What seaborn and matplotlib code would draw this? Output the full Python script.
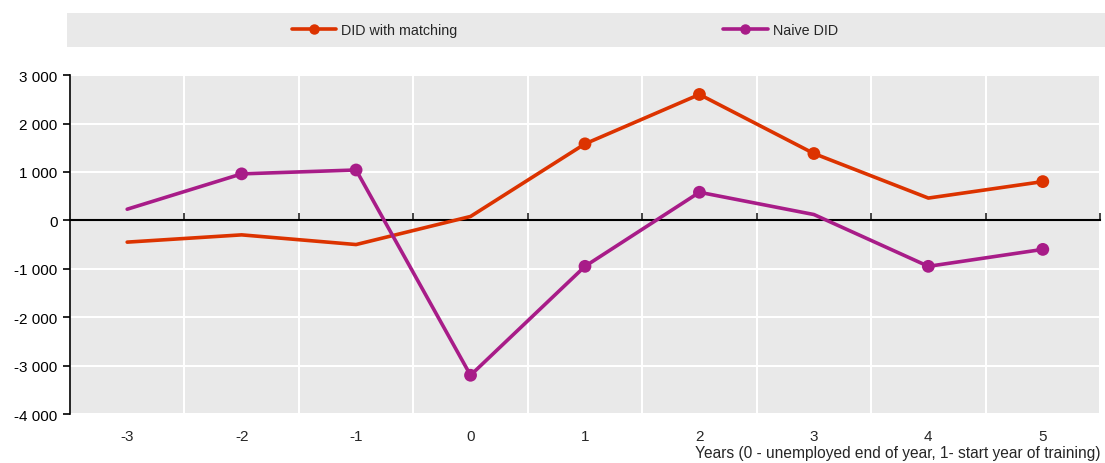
import numpy as np
import pandas as pd
import matplotlib.pyplot as plt
import matplotlib.ticker as ticker
import seaborn as sns

# data

years = [-3, -2, -1, 0, 1, 2, 3, 4, 5]
did_matching = [-450, -300, -500, 80, 1580, 2600, 1380, 460, 800]
naive_did = [230, 960, 1040, -3200, -950, 580, 120, -950, -600]
# points drawn with a marker in the original
matching_marked = [False, False, False, False, True, True, True, False, True]
naive_marked = [False, True, True, True, True, True, False, True, True]

df = pd.DataFrame({
    "year": years * 2,
    "value": did_matching + naive_did,
    "series": ["DID with matching"] * len(years) + ["Naive DID"] * len(years),
    "marked": matching_marked + naive_marked,
})

colors = {"DID with matching": "#dc3300", "Naive DID": "#a81c88"}

sns.set_style("white")
plt.rcParams['font.family'] = ['Liberation Sans', 'DejaVu Sans']
plt.rcParams['axes.unicode_minus'] = False

fig = plt.figure(figsize=(11.05, 4.64), dpi=100)
ax = fig.add_axes([0.0633, 0.1056, 0.9322, 0.7304])
ax.set_facecolor("#e9e9e9")

sns.lineplot(data=df, x="year", y="value", hue="series", palette=colors,
             linewidth=2.6, ax=ax, legend=False, zorder=6)
sns.scatterplot(data=df[df["marked"]], x="year", y="value", hue="series",
                palette=colors, s=85, edgecolor="none", ax=ax, legend=False, zorder=7)

ax.set_xlim(-3.5, 5.5)
ax.set_ylim(-4000, 3000)
ax.set_xticks(years)
ax.xaxis.set_minor_locator(ticker.FixedLocator(np.arange(-3.5, 5.6, 1)))
ax.yaxis.set_major_locator(ticker.MultipleLocator(1000))
ax.yaxis.set_major_formatter(ticker.FuncFormatter(lambda v, p: f"{int(v):,}".replace(",", " ")))
ax.grid(False)
ax.grid(True, which="minor", axis="x", color="white", linewidth=1.5)
ax.grid(True, which="major", axis="y", color="white", linewidth=1.5)
ax.set_axisbelow(True)

for s in ["top", "right", "bottom"]:
    ax.spines[s].set_visible(False)
ax.spines["left"].set_color("black")
ax.spines["left"].set_linewidth(1.2)
ax.tick_params(axis="y", which="major", left=True, length=5, width=1.2,
               labelsize=11, pad=4, colors="black")
ax.tick_params(axis="x", which="both", bottom=False, labelsize=11, pad=7)

# zero line with small ticks between categories
zero = ax.secondary_xaxis(4000 / 7000)
zero.set_zorder(5)
for s in zero.spines.values():
    s.set_linewidth(1.5)
    s.set_color("black")
zero.set_xticks(np.arange(-3.5, 5.6, 1))
zero.set_xticklabels([])
zero.tick_params(direction="out", length=5, width=1.2, labeltop=False, labelbottom=False)

ax.set_xlabel("Years (0 - unemployed end of year, 1- start year of training)",
              fontsize=11.2, loc="right", labelpad=0)
ax.xaxis.set_label_coords(1.0, -0.09)
ax.set_ylabel("")

# legend strip
strip = plt.Rectangle((0.0607, 0.8966), 0.94, 0.0733, transform=fig.transFigure,
                      facecolor="#e9e9e9", edgecolor="none", zorder=0)
fig.patches.append(strip)
handles = [plt.Line2D([], [], color=colors[k], linewidth=2.6, marker="o", markersize=6.5)
           for k in colors]
fig.legend(handles, list(colors), loc="center", bbox_to_anchor=(0.511, 0.933),
           ncol=2, frameon=False, fontsize=10.3, handlelength=3.1, handletextpad=0.35,
           columnspacing=18.6)

fig.savefig("out.png", dpi=100)
